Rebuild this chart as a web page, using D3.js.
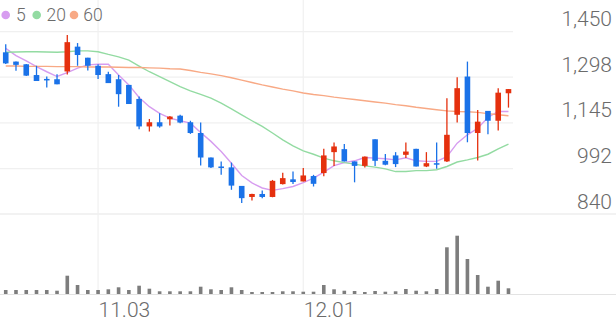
<!DOCTYPE html>
<html><head><meta charset="utf-8">
<script src="https://cdn.jsdelivr.net/npm/d3@7"></script>
<style>html,body{margin:0;padding:0;background:#fff;} svg{display:block;font-family:Roboto,"Noto Sans",sans-serif;}</style>
</head><body><svg id="c" width="616" height="321"></svg>
<script>
const dates = ["10.21","10.22","10.23","10.24","10.27","10.28","10.29","10.30","10.31",
"11.03","11.04","11.05","11.06","11.07","11.10","11.11","11.12","11.13","11.14","11.17","11.18","11.19","11.20","11.21","11.24","11.25","11.26","11.27","11.28",
"12.01","12.02","12.03","12.04","12.05","12.08","12.09","12.10","12.11","12.12","12.15","12.16","12.17","12.18","12.19","12.22","12.23","12.24","12.26","12.29","12.30"];
const open  = [1381,1350,1341,1305,1292,1291,1317,1400,1363,1336,1308,1291,1272,1225,1133,1147,1157,1169,1147,1111,1029,999,996,934,897,907,897,940,956,949,967,977,1047,1057,1016,1001,1090,1018,1036,1038,1058,999,1010,1016,1172,1300,1111,1185,1152,1244];
const high  = [1408,1350,1342,1336,1300,1308,1439,1412,1363,1341,1316,1305,1272,1233,1158,1177,1168,1172,1152,1146,1029,1016,1012,934,908,919,954,978,982,994,971,1058,1079,1074,1016,1032,1090,1041,1047,1079,1058,1047,1079,1227,1298,1350,1188,1185,1261,1258];
const low   = [1342,1319,1302,1285,1263,1274,1307,1336,1320,1292,1278,1199,1208,1124,1116,1129,1136,1144,1108,1002,994,971,921,877,885,893,896,939,940,949,932,966,1001,1016,946,996,1001,1003,997,1027,999,997,991,1014,1146,1080,1019,1107,1119,1196];
const close = [1344,1339,1303,1285,1289,1274,1415,1372,1336,1305,1278,1241,1208,1133,1147,1133,1166,1146,1111,1029,996,994,935,893,907,897,951,960,947,969,941,1036,1066,1016,1001,1032,1018,1005,1007,1049,999,1010,1005,1105,1261,1111,1149,1152,1246,1258];
const ma5   = [1394,1370,1352,1333,1316,1300,1313,1328,1339,1341,1341,1305,1272,1230,1199,1177,1161,1152,1144,1113,1083,1049,1010,969,944,927,919,925,932,945,960,980,1002,1012,1018,1029,1027,1025,1021,1028,1018,1016,1016,1032,1077,1105,1127,1163,1183,1183];
const ma20  = [1381,1382,1383,1383,1382,1381,1383,1386,1386,1383,1374,1366,1355,1335,1316,1300,1283,1266,1252,1240,1228,1211,1192,1172,1152,1133,1111,1088,1068,1051,1040,1027,1018,1012,1007,1001,997,991,982,982,985,985,988,999,1014,1021,1029,1040,1058,1074];
const ma60  = [1335,1335,1334,1334,1334,1333,1333,1333,1332,1332,1332,1331,1330,1330,1329,1328,1326,1325,1320,1314,1309,1303,1296,1288,1280,1272,1265,1258,1252,1245,1240,1236,1231,1227,1223,1219,1215,1211,1206,1202,1197,1193,1189,1185,1183,1182,1180,1176,1172,1169];
const volume= [40,40,40,40,40,33,183,90,40,40,47,67,40,83,53,27,27,27,27,73,47,40,67,40,20,20,20,27,27,23,23,90,47,33,30,20,30,23,27,50,33,27,50,467,583,350,190,73,133,57];
const priceTicks = [840,992,1145,1298,1450];
const dateTicks = ["11.03","12.01"];
const legendLabels = ["5","20","60"];

const W = 616, H = 321;
const svg = d3.select("#c");
svg.append("rect").attr("width",W).attr("height",H).attr("fill","#fff");

const idx = d3.range(dates.length);
const x = d3.scaleBand().domain(idx).range([0.6, 513.6]).padding(0);
const cx = i => x(i) + x.bandwidth()/2;
const y = d3.scaleLinear().domain([840,1450]).range([214, 31.7]);
const yv = d3.scaleLinear().domain([0,600]).range([294, 234]);

const grid = svg.append("g");
priceTicks.forEach(t => {
  grid.append("line").attr("x1",0).attr("x2", t===840 ? W : 513)
    .attr("y1",y(t)).attr("y2",y(t))
    .attr("stroke", t===840 ? "#e6e6e6" : "#f0f0f0").attr("stroke-width",1.2);
});
dateTicks.forEach(d => {
  const i = dates.indexOf(d);
  grid.append("line").attr("x1",cx(i)).attr("x2",cx(i)).attr("y1",0).attr("y2",294)
    .attr("stroke","#f0f0f0").attr("stroke-width",1.2);
});
grid.append("line").attr("x1",0).attr("x2",W).attr("y1",294.5).attr("y2",294.5)
  .attr("stroke","#e3e3e3").attr("stroke-width",1.2);

// y axis labels
const yAxis = d3.axisRight(y).tickValues(priceTicks).tickSize(0).tickFormat(d3.format(","));
const ya = svg.append("g").attr("transform","translate(612,0)").call(yAxis);
ya.select(".domain").remove();
ya.selectAll("text").attr("x",0).attr("dy",0).attr("y",-6).attr("text-anchor","end")
  .attr("fill","#6b6b6b").style("font-size","21px").style("font-weight",300)
  .style("font-family","Roboto, sans-serif");

// x axis labels
const xa = svg.append("g").attr("transform","translate(0,317)");
dateTicks.forEach(d => {
  const i = dates.indexOf(d);
  xa.append("text").attr("x",cx(i)+0.5).attr("y",0).attr("text-anchor","start")
    .attr("fill","#6b6b6b").style("font-size","21px").style("font-weight",300).text(d);
});

// volume
svg.append("g").selectAll("rect").data(idx).join("rect")
  .attr("x", i => cx(i)-1.8).attr("width",3.6)
  .attr("y", i => yv(volume[i])).attr("height", i => 294 - yv(volume[i]))
  .attr("fill","#7d7d7d");

// moving averages
const maColors = ["#d79df0","#93dba2","#f8a985"];
[ma5, ma20, ma60].forEach((arr,k) => {
  svg.append("path").datum(idx)
    .attr("d", d3.line().x(i => cx(i)).y(i => y(arr[i])))
    .attr("fill","none").attr("stroke",maColors[k]).attr("stroke-width",1.4);
});

// candles
const up = "#e5300e", down = "#1a72e8";
const cg = svg.append("g").selectAll("g").data(idx).join("g");
cg.append("line").attr("x1",cx).attr("x2",cx)
  .attr("y1", i => y(high[i])).attr("y2", i => y(low[i]))
  .attr("stroke", i => close[i] >= open[i] ? up : down).attr("stroke-width",1.3);
cg.append("rect").attr("x", i => cx(i)-2.8).attr("width",5.6)
  .attr("y", i => y(Math.max(open[i],close[i])))
  .attr("height", i => Math.max(1.5, Math.abs(y(open[i]) - y(close[i]))))
  .attr("fill", i => close[i] >= open[i] ? up : down);

// legend
const lg = svg.append("g");
const lx = [[5.7,16],[36.7,46.5],[74,83.3]];
legendLabels.forEach((l,k) => {
  lg.append("circle").attr("cx",lx[k][0]).attr("cy",15).attr("r",4.3).attr("fill",maColors[k]);
  lg.append("text").attr("x",lx[k][1]).attr("y",20.8).attr("fill","#6b6b6b")
    .style("font-size","17.5px").style("font-weight",300).text(l);
});
</script></body></html>
